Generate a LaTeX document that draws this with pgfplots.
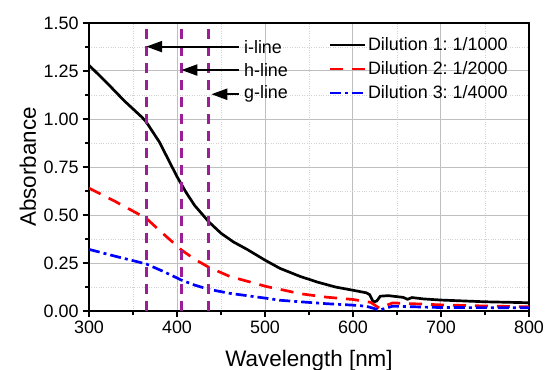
\documentclass[border=0pt]{standalone}
\usepackage{fontspec}
\setmainfont{Liberation Sans}
\usepackage{pgfplots}
\pgfplotsset{compat=1.18}
\usetikzlibrary{arrows.meta}
\definecolor{purp}{RGB}{155,30,150}
\definecolor{myred}{RGB}{255,0,0}
\definecolor{myblue}{RGB}{0,0,255}
\frenchspacing
\begin{document}
\begin{tikzpicture}
\begin{axis}[
  scale only axis, width=440bp, height=288bp,
  xmin=300, xmax=800, ymin=0, ymax=1.5,
  xtick={300,400,...,800}, ytick={0,0.25,0.5,0.75,1,1.25,1.5},
  minor x tick num=1, minor y tick num=1,
  tick align=outside, tick pos=left,
  major tick length=6bp, minor tick length=3.5bp,
  grid=both,
  major grid style={gray!50, line width=1pt},
  minor grid style={gray!35, dotted, line width=0.7pt},
  axis line style={line width=2pt},
  every tick/.style={black, line width=1.4pt},
  /pgf/number format/assume math mode=true,
  tick label style={font=\fontsize{18}{20}\selectfont},
  yticklabel style={/pgf/number format/fixed, /pgf/number format/fixed zerofill, /pgf/number format/precision=2, xshift=-1bp},
  xticklabel style={/pgf/number format/set thousands separator={}},
  xlabel={Wavelength [nm]}, ylabel={Absorbance},
  label style={font=\fontsize{22.5}{24}\selectfont},
  xlabel style={at={(axis description cs:0.5,-0.135)}, anchor=north, inner sep=0pt},
  ylabel style={at={(axis description cs:-0.139,0.5)}, anchor=center, inner sep=0pt},
  legend style={draw=none, fill=none, at={(axis description cs:0.962,0.962)}, anchor=north east,
    font=\fontsize{18}{20}\selectfont, nodes={inner sep=1.5bp}, row sep=6.5bp},
  legend cell align=left,
  legend image code/.code={\draw[#1] (0bp,0bp) -- (35bp,0bp);},
]
\addplot[black, line width=2.7pt] coordinates {
(300,1.28) (320,1.19) (340,1.095) (360,1.01) (365,0.985) (380,0.88) (390,0.79) (400,0.70)
(410,0.62) (420,0.55) (436,0.465) (450,0.405) (464,0.36) (480,0.32) (500,0.265) (517,0.222)
(540,0.18) (560,0.15) (580,0.125) (600,0.108) (615,0.095) (619,0.085) (623,0.047) (627,0.052)
(631,0.077) (640,0.08) (657,0.071) (662,0.061) (667,0.07) (680,0.063) (700,0.057) (750,0.048) (800,0.043)
};
\addlegendentry{Dilution 1: 1/1000}
\addplot[myred, line width=2.7pt, dash pattern=on 13bp off 9bp] coordinates {
(300,0.64) (330,0.57) (365,0.483) (380,0.42) (405,0.318) (420,0.27) (436,0.228) (460,0.18)
(502,0.127) (517,0.113) (540,0.09) (570,0.072) (600,0.06) (620,0.045) (630,0.015) (645,0.042)
(700,0.032) (750,0.026) (800,0.022)
};
\addlegendentry{Dilution 2: 1/2000}
\addplot[myblue, line width=2.7pt, dash pattern=on 11bp off 4bp on 3bp off 4bp] coordinates {
(300,0.321) (330,0.285) (365,0.245) (385,0.205) (405,0.161) (420,0.135) (436,0.113) (460,0.092)
(502,0.066) (517,0.056) (540,0.048) (570,0.038) (598,0.031) (615,0.025) (630,0.005) (645,0.025)
(700,0.018) (800,0.017)
};
\addlegendentry{Dilution 3: 1/4000}
\addplot[purp, line width=3pt, dash pattern=on 10bp off 7bp, forget plot] coordinates {(365,0) (365,1.5)};
\addplot[purp, line width=3pt, dash pattern=on 10bp off 7bp, forget plot] coordinates {(405,0) (405,1.5)};
\addplot[purp, line width=3pt, dash pattern=on 10bp off 7bp, forget plot] coordinates {(436,0) (436,1.5)};
\draw[line width=2.2pt, -{Triangle[length=16bp,width=11bp]}] (axis cs:471,1.377) -- (axis cs:365,1.377);
\draw[line width=2.2pt, -{Triangle[length=16bp,width=11bp]}] (axis cs:471,1.255) -- (axis cs:405,1.255);
\draw[line width=2.2pt, -{Triangle[length=16bp,width=11bp]}] (axis cs:471,1.129) -- (axis cs:439,1.129);
\node[anchor=west, inner sep=0pt, font=\fontsize{18}{20}\selectfont] at (axis cs:476,1.377) {i-line};
\node[anchor=west, inner sep=0pt, font=\fontsize{18}{20}\selectfont] at (axis cs:476,1.255) {h-line};
\node[anchor=west, inner sep=0pt, font=\fontsize{18}{20}\selectfont] at (axis cs:476,1.129) {g-line};
\end{axis}
\pgfresetboundingbox
\path ([shift={(-89bp,-59bp)}]current axis.south west) rectangle ([shift={(456bp,311bp)}]current axis.south west);
\end{tikzpicture}
\end{document}
